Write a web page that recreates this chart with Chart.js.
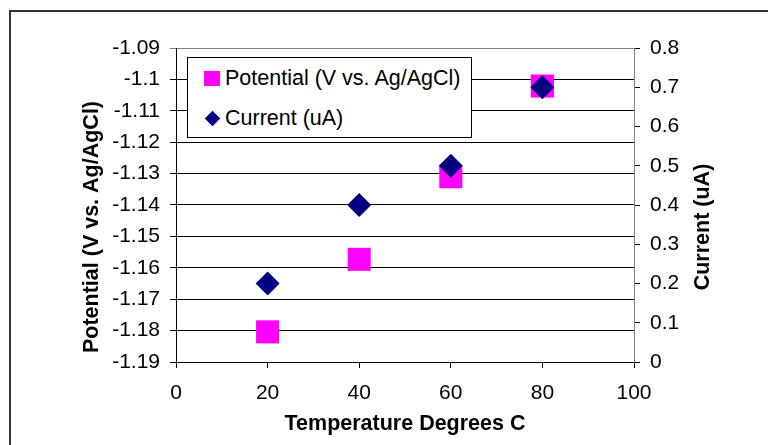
<!DOCTYPE html>
<html>
<head>
<meta charset="utf-8">
<script src="https://cdn.jsdelivr.net/npm/chart.js@4/dist/chart.umd.min.js"></script>
<style>
  html, body { margin: 0; padding: 0; background: #fff; overflow: hidden; }
  #wrap { position: relative; width: 768px; height: 445px; }
  #frame { position: absolute; left: 9px; top: 10px; width: 800px; height: 500px;
           border-left: 2px solid #333; border-top: 2px solid #333; pointer-events: none; }
  #legend { position: absolute; left: 187px; top: 57px; width: 283px; height: 79px;
            border: 1px solid #000; background: #fff; font-family: "Liberation Sans", Arial, sans-serif;
            font-size: 21.5px; color: #000; }
  .item { position: absolute; left: 0; height: 26px; line-height: 26px; white-space: nowrap; }
  .item span.txt { position: absolute; left: 37px; top: 0; }
  .sq { position: absolute; left: 16px; top: 5.5px; width: 15.5px; height: 15px; }
  .dia { position: absolute; left: 19.2px; top: 8.3px; width: 11px; height: 11px; transform: rotate(45deg); }
</style>
</head>
<body>
<div id="wrap">
  <canvas id="c" width="768" height="445"></canvas>
  <div id="frame"></div>
  <div id="legend"></div>
</div>
<script>
const temperatures = [20, 40, 60, 80];
const potentialValues = [-1.1804, -1.1573, -1.131, -1.1021];
const currentValues = [0.20, 0.40, 0.50, 0.70];
const seriesLabels = ["Potential (V vs. Ag/AgCl)", "Current (uA)"];
const xTickValues = [0, 20, 40, 60, 80, 100];
const leftTickValues = [-1.19, -1.18, -1.17, -1.16, -1.15, -1.14, -1.13, -1.12, -1.11, -1.10, -1.09];
const rightTickValues = [0, 0.1, 0.2, 0.3, 0.4, 0.5, 0.6, 0.7, 0.8];
const xTitle = "Temperature Degrees C";
const leftTitle = "Potential (V vs. Ag/AgCl)";
const rightTitle = "Current (uA)";

const FONT = "'Liberation Sans', Arial, sans-serif";
const fmt = v => String(Number(Number(v).toFixed(3)));
const setTicks = arr => scale => { scale.ticks = arr.map(v => ({ value: v })); };

// Y-axis titles, both reading bottom-to-top
const yTitles = {
  id: 'yTitles',
  afterDraw(chart) {
    const ctx = chart.ctx;
    const items = [
      { text: leftTitle, x: 92 },
      { text: rightTitle, x: 703 }
    ];
    ctx.save();
    ctx.fillStyle = '#000';
    ctx.font = "bold 21.5px " + FONT;
    ctx.textAlign = 'center';
    ctx.textBaseline = 'middle';
    items.forEach(it => {
      ctx.save();
      ctx.translate(it.x, 227);
      ctx.rotate(-Math.PI / 2);
      ctx.fillText(it.text, 0, 0);
      ctx.restore();
    });
    ctx.restore();
  }
};

const chart = new Chart(document.getElementById('c'), {
  type: 'scatter',
  data: {
    datasets: [
      {
        label: seriesLabels[0],
        data: temperatures.map((t, i) => ({ x: t, y: potentialValues[i] })),
        yAxisID: 'yL',
        pointStyle: 'rect',
        pointRadius: 16.3,
        pointHoverRadius: 16.3,
        backgroundColor: '#FF00FF',
        borderColor: '#FF00FF',
        borderWidth: 0,
        order: 2
      },
      {
        label: seriesLabels[1],
        data: temperatures.map((t, i) => ({ x: t, y: currentValues[i] })),
        yAxisID: 'yR',
        pointStyle: 'rectRot',
        pointRadius: 12,
        pointHoverRadius: 12,
        backgroundColor: '#000080',
        borderColor: '#000080',
        borderWidth: 0,
        order: 1
      }
    ]
  },
  options: {
    responsive: false,
    animation: false,
    events: [],
    layout: { padding: { top: 48, left: 0, right: 0, bottom: 0 } },
    plugins: { legend: { display: false }, tooltip: { enabled: false } },
    scales: {
      x: {
        type: 'linear', position: 'bottom', min: 0, max: 100,
        afterBuildTicks: setTicks(xTickValues),
        afterFit: s => { s.height = 83; },
        grid: { drawOnChartArea: false, tickLength: 6, color: '#000', lineWidth: 1 },
        border: { color: '#000', width: 1 },
        ticks: { color: '#000', font: { family: FONT, size: 21 }, padding: 12.4, callback: fmt, maxRotation: 0 },
        title: { display: true, text: xTitle, color: '#000', font: { family: FONT, size: 21.5, weight: 'bold' }, padding: { top: 0, bottom: 7.6 } }
      },
      yL: {
        type: 'linear', position: 'left', min: -1.19, max: -1.09,
        afterBuildTicks: setTicks(leftTickValues),
        afterFit: s => { s.width = 176; },
        grid: {
          drawOnChartArea: true, tickLength: 6, lineWidth: 1,
          color: ctx => (ctx.index === leftTickValues.length - 1 ? '#808080' : '#000')
        },
        border: { color: '#000', width: 1 },
        ticks: { color: '#000', font: { family: FONT, size: 21 }, padding: 10, callback: fmt },
        title: { display: false }
      },
      yR: {
        type: 'linear', position: 'right', min: 0, max: 0.8,
        afterBuildTicks: setTicks(rightTickValues),
        afterFit: s => { s.width = 134; },
        grid: { drawOnChartArea: false, tickLength: 6, color: '#000', lineWidth: 1 },
        border: { color: '#808080', width: 1 },
        ticks: { color: '#000', font: { family: FONT, size: 21 }, padding: 10, callback: fmt },
        title: { display: false }
      }
    }
  },
  plugins: [yTitles]
});

// HTML legend built from the datasets
const legend = document.getElementById('legend');
chart.data.datasets.forEach((ds, i) => {
  const item = document.createElement('div');
  item.className = 'item';
  item.style.top = (i === 0 ? 7 : 46.5) + 'px';
  const mark = document.createElement('div');
  mark.className = ds.pointStyle === 'rect' ? 'sq' : 'dia';
  mark.style.background = ds.backgroundColor;
  const txt = document.createElement('span');
  txt.className = 'txt';
  txt.textContent = ds.label;
  item.appendChild(mark);
  item.appendChild(txt);
  legend.appendChild(item);
});
</script>
</body>
</html>
